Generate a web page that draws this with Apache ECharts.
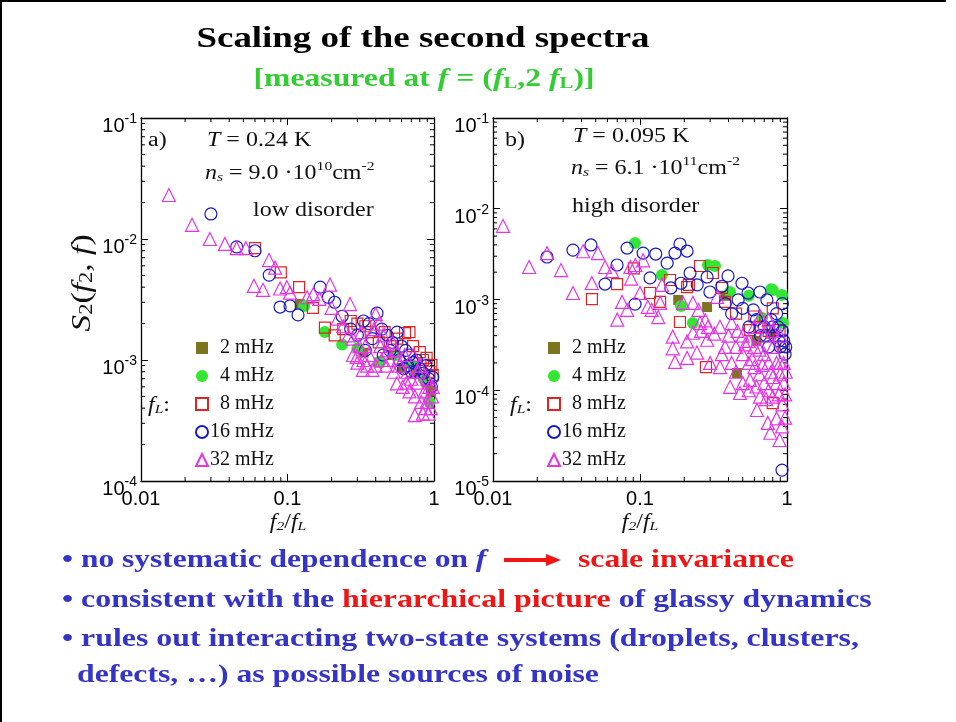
<!DOCTYPE html>
<html><head><meta charset="utf-8">
<script src="https://cdn.jsdelivr.net/npm/echarts@6/dist/echarts.min.js"></script>
<style>html,body{margin:0;padding:0;background:#fff}#c{width:956px;height:722px}</style>
</head><body><div id="c"></div>
<script>
// ---------- data ----------
const seriesNames = ['2 mHz', '4 mHz', '8 mHz', '16 mHz', '32 mHz'];
const xTickLabels = ['0.01', '0.1', '1'];   // exponents -2, -1, 0

// panel a) low disorder  [f2/fL, S2]
const a2 = [[0.121,0.0029],[0.33,0.00115],[0.42,0.00095],[0.52,0.0011],[0.605,0.00086],[0.75,0.00078],[0.89,0.00065],[0.95,0.00055]];
const a4 = [[0.13,0.0028],[0.18,0.0017],[0.236,0.00134],[0.30,0.00125],[0.428,0.00097],[0.55,0.0011],[0.70,0.00092],[0.93,0.00045],[0.85,0.0007]];
const a8 = [[0.060,0.0084],[0.090,0.0053],[0.12,0.0040],[0.149,0.0027],[0.18,0.00185],[0.21,0.0016],[0.24,0.0018],[0.27,0.0021],[0.30,0.0020],[0.34,0.0019],[0.37,0.0017],[0.42,0.0014],[0.46,0.0017],[0.52,0.0013],[0.56,0.0015],[0.634,0.00167],[0.68,0.0017],[0.72,0.0013],[0.80,0.00116],[0.84,0.0010],[0.89,0.00104],[0.96,0.00091],[0.93,0.0008],[0.98,0.00075]];
const a16 = [[0.030,0.0161],[0.045,0.0086],[0.060,0.0080],[0.075,0.00503],[0.089,0.00274],[0.104,0.0028],[0.118,0.00236],[0.167,0.0040],[0.19,0.0033],[0.21,0.0030],[0.236,0.0023],[0.27,0.0018],[0.30,0.0016],[0.33,0.0021],[0.36,0.0020],[0.408,0.00244],[0.38,0.0015],[0.44,0.0018],[0.48,0.0016],[0.52,0.0014],[0.56,0.0017],[0.60,0.0013],[0.64,0.0012],[0.68,0.0011],[0.72,0.00095],[0.76,0.0010],[0.80,0.00085],[0.85,0.00078],[0.88,0.0009],[0.92,0.0007],[0.96,0.0006],[0.98,0.00072],[0.34,0.0012],[0.45,0.0011],[0.62,0.00085],[0.74,0.0008],[0.50,0.0012],[0.58,0.001],[0.66,0.0009],[0.70,0.0008]];
const a32 = [[0.0155,0.0231],[0.0223,0.0131],[0.0295,0.0100],[0.0374,0.0091],[0.045,0.0084],[0.052,0.0084],[0.0748,0.0067],[0.0822,0.0058],[0.059,0.0041],[0.068,0.0038],[0.089,0.0039],[0.099,0.0040],[0.104,0.0036],[0.136,0.0033],[0.15,0.0035],[0.165,0.0032],[0.195,0.0042],[0.20,0.0027],[0.22,0.0022],[0.267,0.0029],[0.24,0.0019],[0.26,0.0016],[0.28,0.0015],[0.297,0.00106],[0.31,0.0013],[0.327,0.00083],[0.35,0.0009],[0.38,0.00083],[0.36,0.0011],[0.40,0.0024],[0.42,0.0020],[0.43,0.0013],[0.45,0.0016],[0.48,0.0012],[0.50,0.0010],[0.52,0.0014],[0.558,0.00064],[0.58,0.0009],[0.61,0.0006],[0.63,0.0011],[0.66,0.0008],[0.70,0.0007],[0.72,0.0011],[0.74,0.0005],[0.74,0.00035],[0.77,0.00065],[0.80,0.0009],[0.84,0.00036],[0.86,0.00055],[0.89,0.00045],[0.92,0.00036],[0.95,0.0004],[0.97,0.0005],[0.98,0.0006],[0.32,0.0017],[0.39,0.0018],[0.55,0.0012],[0.68,0.00055],[0.90,0.0007],[0.28,0.0011],[0.30,0.00095],[0.33,0.0010],[0.34,0.0013],[0.40,0.0009],[0.44,0.001],[0.47,0.0009],[0.53,0.0008],[0.57,0.0010],[0.65,0.00065],[0.78,0.0008],[0.82,0.00045],[0.87,0.0004],[0.93,0.0006]];

// panel b) high disorder
const b2 = [[0.182,0.00099],[0.286,0.000826],[0.38,0.0011],[0.457,0.000155],[0.62,0.00035],[0.78,0.00042]];
const b4 = [[0.0925,0.0042],[0.141,0.00186],[0.19,0.00085],[0.229,0.00055],[0.29,0.0024],[0.324,0.00234],[0.41,0.00121],[0.55,0.0011],[0.676,0.000625],[0.78,0.0013],[0.80,0.00127],[0.925,0.00112],[0.94,0.00055]];
const b8 = [[0.0471,0.00101],[0.0698,0.00148],[0.091,0.0022],[0.117,0.00118],[0.137,0.00094],[0.16,0.00164],[0.187,0.000565],[0.209,0.00137],[0.215,0.00145],[0.256,0.00234],[0.281,0.00018],[0.313,0.00196],[0.361,0.00134],[0.379,0.00094],[0.45,0.0007],[0.56,0.00046],[0.65,0.0005],[0.75,0.00045],[0.80,0.0008],[0.80,0.000072],[0.89,0.00046],[0.95,0.0003],[0.6,0.00065]];
const b16 = [[0.0233,0.00294],[0.035,0.0035],[0.0464,0.00399],[0.0578,0.00148],[0.0698,0.0024],[0.0817,0.00369],[0.0925,0.00089],[0.105,0.00325],[0.128,0.00317],[0.153,0.00252],[0.173,0.00325],[0.187,0.00409],[0.209,0.00342],[0.117,0.00173],[0.162,0.00134],[0.19,0.00151],[0.219,0.00196],[0.245,0.00145],[0.286,0.00177],[0.299,0.00121],[0.361,0.0014],[0.397,0.00182],[0.465,0.00099],[0.494,0.00151],[0.543,0.00118],[0.59,0.00077],[0.655,0.00121],[0.73,0.00099],[0.38,0.0009],[0.42,0.0007],[0.50,0.0008],[0.55,0.0005],[0.62,0.0006],[0.70,0.0005],[0.78,0.0006],[0.82,0.0004],[0.87,0.0005],[0.90,0.0003],[0.95,0.00035],[0.97,0.00025],[0.75,0.0003],[0.66,0.0004],[0.925,0.0000132],[0.85,0.0007],[0.93,0.0009],[0.72,0.0004],[0.8,0.0005],[0.88,0.00035],[0.93,0.00045],[0.98,0.0003]];
const b32 = [[0.0117,0.00646],[0.0176,0.00228],[0.0233,0.00325],[0.029,0.00211],[0.035,0.00118],[0.041,0.0034],[0.047,0.00152],[0.0517,0.00325],[0.0578,0.00228],[0.0645,0.00206],[0.07,0.0006],[0.0755,0.00094],[0.0817,0.00077],[0.086,0.00228],[0.087,0.0017],[0.093,0.0024],[0.10,0.00118],[0.105,0.0027],[0.113,0.00083],[0.12,0.00077],[0.133,0.00064],[0.137,0.00092],[0.141,0.00145],[0.167,0.00039],[0.167,0.00029],[0.173,0.000205],[0.196,0.00092],[0.209,0.000345],[0.209,0.000227],[0.229,0.00043],[0.229,0.00092],[0.244,0.00026],[0.25,0.00077],[0.256,0.00055],[0.278,0.00059],[0.286,0.00036],[0.30,0.0002],[0.29,0.0005],[0.32,0.00042],[0.334,0.00107],[0.35,0.00018],[0.36,0.00025],[0.35,0.0005],[0.38,0.0003],[0.40,0.0004],[0.41,0.000109],[0.42,0.00055],[0.42,0.0002],[0.45,0.0003],[0.45,0.00016],[0.46,0.00045],[0.479,0.0000933],[0.50,0.00025],[0.50,0.00012],[0.50,0.0004],[0.52,0.00032],[0.55,0.0002],[0.55,0.0001],[0.55,0.00035],[0.56,0.00013],[0.58,0.00022],[0.60,0.00018],[0.60,0.0003],[0.62,0.00011],[0.625,0.0000606],[0.65,0.00015],[0.65,0.00028],[0.655,0.000085],[0.68,0.00019],[0.70,0.00012],[0.70,0.00025],[0.72,0.00008],[0.74,0.0000437],[0.75,0.0001],[0.75,0.0002],[0.77,0.000034],[0.78,0.00016],[0.80,0.000085],[0.80,0.00014],[0.80,0.0003],[0.85,0.000049],[0.85,0.0002],[0.85,0.00012],[0.88,0.00009],[0.89,0.0000283],[0.90,0.00015],[0.90,0.0002],[0.925,0.00004],[0.93,0.00007],[0.95,0.00012],[0.95,0.0002],[0.97,0.00009],[0.97,0.00005],[0.98,0.00016],[0.26,0.00045],[0.6,0.0005],[0.7,0.0004],[0.8,0.00045],[0.9,0.0004],[0.66,0.00065],[0.75,0.0006]];

const panelA = [a2, a4, a8, a16, a32];
const panelB = [b2, b4, b8, b16, b32];

// ---------- styling ----------
const SERIF = "'Liberation Serif','Times New Roman',serif";
const SANS = "'Liberation Sans',Arial,sans-serif";
const marks = [
  {symbol: 'rect', size: 10, fill: '#7d7420', stroke: '#7d7420', bw: 0},
  {symbol: 'circle', size: 12, fill: '#33e633', stroke: '#33e633', bw: 0},
  {symbol: 'rect', size: 11, fill: 'rgba(255,255,255,0)', stroke: '#e02424', bw: 1.2},
  {symbol: 'circle', size: 12, fill: 'rgba(255,255,255,0)', stroke: '#1a1acc', bw: 1.2},
  {symbol: 'triangle', size: 13, fill: 'rgba(255,255,255,0)', stroke: '#e633e6', bw: 1.2}
];

function xAx(grid, pos, labels) {
  return {
    type: 'log', logBase: 10, gridIndex: grid, position: pos, min: 0.01, max: 1, splitNumber: 2,
    axisLine: {show: true, onZero: false, lineStyle: {color: '#000', width: 1.3}},
    axisTick: {show: true, inside: true, length: 7, lineStyle: {color: '#000', width: 1}},
    minorTick: {show: false},
    splitLine: {show: false}, minorSplitLine: {show: false},
    axisLabel: {show: labels, margin: 8, color: '#000', fontFamily: SANS, fontSize: 20,
      formatter: v => xTickLabels[Math.round(Math.log10(v)) + 2]}
  };
}
function yAx(grid, pos, min, labels) {
  return {
    type: 'log', logBase: 10, gridIndex: grid, position: pos, min: min, max: 0.1,
    splitNumber: Math.round(Math.log10(0.1 / min)),
    axisLine: {show: true, onZero: false, lineStyle: {color: '#000', width: 1.3}},
    axisTick: {show: true, inside: true, length: 7, lineStyle: {color: '#000', width: 1}},
    minorTick: {show: false},
    splitLine: {show: false}, minorSplitLine: {show: false},
    axisLabel: {show: labels, margin: 4, padding: [15, 0, 0, 0],
      formatter: v => '{b|10}{s|' + Math.round(Math.log10(v)) + '}',
      rich: {
        b: {fontFamily: SANS, fontSize: 20, lineHeight: 22, verticalAlign: 'bottom', color: '#000'},
        s: {fontFamily: SANS, fontSize: 14, lineHeight: 14, padding: [0, 0, 10, 0], verticalAlign: 'bottom', color: '#000'}
      }}
  };
}

// minor tick positions (2..9 x each decade) drawn through the axes' own scales
function minorValues(lo, hi) {
  const out = [];
  for (let e = Math.round(Math.log10(lo)); e < Math.round(Math.log10(hi)); e++) {
    for (let k = 2; k <= 9; k++) out.push(k * Math.pow(10, e));
  }
  return out;
}
function minorTickSeries(p, yMin) {
  const xs = minorValues(0.01, 1).map(v => [v, yMin, 0]);
  const ys = minorValues(yMin, 0.1).map(v => [0.01, v, 1]);
  return {
    type: 'custom', xAxisIndex: p * 2, yAxisIndex: p * 2, silent: true, z: 1,
    data: xs.concat(ys), clip: false,
    renderItem: function (params, api) {
      const kind = api.value(2);
      const L = 4;
      const st = {stroke: '#000', lineWidth: 1};
      if (kind === 0) {
        const b = api.coord([api.value(0), yMin]);
        const t = api.coord([api.value(0), 0.1]);
        return {type: 'group', children: [
          {type: 'line', shape: {x1: b[0], y1: b[1], x2: b[0], y2: b[1] - L}, style: st},
          {type: 'line', shape: {x1: t[0], y1: t[1], x2: t[0], y2: t[1] + L}, style: st}
        ]};
      }
      const l = api.coord([0.01, api.value(1)]);
      const r = api.coord([1, api.value(1)]);
      return {type: 'group', children: [
        {type: 'line', shape: {x1: l[0], y1: l[1], x2: l[0] + L, y2: l[1]}, style: st},
        {type: 'line', shape: {x1: r[0], y1: r[1], x2: r[0] - L, y2: r[1]}, style: st}
      ]};
    }
  };
}

const series = [];
[panelA, panelB].forEach((panel, p) => {
  panel.forEach((data, i) => {
    const m = marks[i];
    series.push({
      type: 'scatter', name: seriesNames[i], xAxisIndex: p * 2, yAxisIndex: p * 2,
      data: data, symbol: m.symbol, symbolSize: m.size,
      itemStyle: {color: m.fill, borderColor: m.stroke, borderWidth: m.bw, opacity: 1},
      emphasis: {disabled: true}, z: 2 + i
    });
  });
});
series.push(minorTickSeries(0, 1e-4));
series.push(minorTickSeries(1, 1e-5));

function legendAt(left) {
  return {
    orient: 'vertical', left: left, top: 333, itemWidth: 12, itemHeight: 12, itemGap: 8,
    data: seriesNames, selectedMode: false,
    formatter: n => (n.length < 6 ? '  ' + n : n),
    textStyle: {fontFamily: SERIF, fontSize: 20, lineHeight: 20, color: '#111', padding: [0, 0, 0, -3]}
  };
}

// rich text helpers for graphic texts
function richSerif(size, color, weight) {
  const base = {fontFamily: SERIF, fontSize: size, lineHeight: Math.round(size * 1.2), verticalAlign: 'bottom', fill: color, fontWeight: weight};
  const small = Math.round(size * 0.65);
  return {
    n: Object.assign({}, base),
    i: Object.assign({}, base, {fontStyle: 'italic'}),
    r: Object.assign({}, base, {fill: '#f01414'}),
    sup: Object.assign({}, base, {fontSize: small, lineHeight: small, padding: [0, 0, Math.round(size * 0.55), 0]}),
    sub: Object.assign({}, base, {fontSize: small, lineHeight: Math.round(small * 0.6)}),
    subi: Object.assign({}, base, {fontSize: small, lineHeight: Math.round(small * 0.6), fontStyle: 'italic'})
  };
}
function txt(x, y, text, rich, align, sx, rot) {
  return {
    type: 'text', x: x, y: y, scaleX: sx || 1, rotation: rot || 0, silent: true, z: 10,
    style: {text: text, rich: rich, align: align || 'left', verticalAlign: 'middle',
            textAlign: align || 'left', textVerticalAlign: 'middle', fill: '#111'}
  };
}

const R20 = richSerif(20, '#111', 'normal');
const R24 = richSerif(27, '#111', 'normal');
const TITLE = richSerif(30, '#000', 'bold');
const SUB = richSerif(26, '#33cc33', 'bold');
const BLUE = richSerif(26, '#3434c8', 'bold');

const graphics = [
  // slide border
  {type: 'line', shape: {x1: 1, y1: 0, x2: 1, y2: 722}, style: {stroke: '#000', lineWidth: 2}, silent: true},
  {type: 'line', shape: {x1: 0, y1: 1, x2: 946, y2: 1}, style: {stroke: '#000', lineWidth: 2}, silent: true},
  // titles
  txt(423, 36, '{n|Scaling of the second spectra}', TITLE, 'center', 1.23),
  txt(424, 77, '{n|[measured at }{i|f}{n| = (}{i|f}{sub|L}{n|,2 }{i|f}{sub|L}{n|)]}', SUB, 'center', 1.22),
  // panel a annotations
  txt(148, 139, '{n|a)}', R20, 'left', 1.2),
  txt(207, 139, '{i|T}{n| = 0.24 K}', R20, 'left', 1.2),
  txt(205, 172, '{i|n}{subi|s}{n| = 9.0 ·10}{sup|10}{n|cm}{sup|-2}', R20, 'left', 1.2),
  txt(253, 209, '{n|low disorder}', R20, 'left', 1.2),
  txt(148, 404, '{i|f}{subi|L}{n|:}', R20, 'left', 1.2),
  // panel b annotations
  txt(505, 139, '{n|b)}', R20, 'left', 1.2),
  txt(573, 135, '{i|T}{n| = 0.095 K}', R20, 'left', 1.2),
  txt(571, 167, '{i|n}{subi|s}{n| = 6.1 ·10}{sup|11}{n|cm}{sup|-2}', R20, 'left', 1.2),
  txt(572, 205, '{n|high disorder}', R20, 'left', 1.2),
  txt(510, 404, '{i|f}{subi|L}{n|:}', R20, 'left', 1.2),
  // axis names
  txt(80, 283, '{i|S}{sub|2}{n|(}{i|f}{sub|2}{n|, }{i|f}{n|)}', R24, 'center', 1.25, Math.PI / 2),
  txt(288, 521, '{i|f}{subi|2}{n|/}{i|f}{subi|L}', R20, 'center', 1.2),
  txt(640, 521, '{i|f}{subi|2}{n|/}{i|f}{subi|L}', R20, 'center', 1.2),
  // bullet text
  txt(62, 558, '{n|• no systematic dependence on }{i|f}', BLUE, 'left', 1.21),
  {type: 'line', shape: {x1: 504, y1: 560, x2: 548, y2: 560}, style: {stroke: '#f01414', lineWidth: 4}, silent: true},
  {type: 'polygon', shape: {points: [[546, 554], [561, 560], [546, 566]]}, style: {fill: '#f01414'}, silent: true},
  txt(578, 558, '{r|scale invariance}', BLUE, 'left', 1.22),
  txt(62, 598, '{n|• consistent with the }{r|hierarchical picture}{n| of glassy dynamics}', BLUE, 'left', 1.225),
  txt(62, 637, '{n|• rules out interacting two-state systems (droplets, clusters,}', BLUE, 'left', 1.225),
  txt(77, 673, '{n|defects, …) as possible sources of noise}', BLUE, 'left', 1.22)
];

const option = {
  animation: false,
  backgroundColor: '#fff',
  grid: [
    {left: 141, top: 118, width: 293, height: 363, containLabel: false},
    {left: 493, top: 118, width: 294, height: 363, containLabel: false}
  ],
  xAxis: [xAx(0, 'bottom', true), xAx(0, 'top', false), xAx(1, 'bottom', true), xAx(1, 'top', false)],
  yAxis: [yAx(0, 'left', 1e-4, true), yAx(0, 'right', 1e-4, false), yAx(1, 'left', 1e-5, true), yAx(1, 'right', 1e-5, false)],
  legend: [legendAt(190), legendAt(542)],
  series: series,
  graphic: graphics
};
const chart = echarts.init(document.getElementById('c'));
chart.setOption(option);
</script>
</body></html>
